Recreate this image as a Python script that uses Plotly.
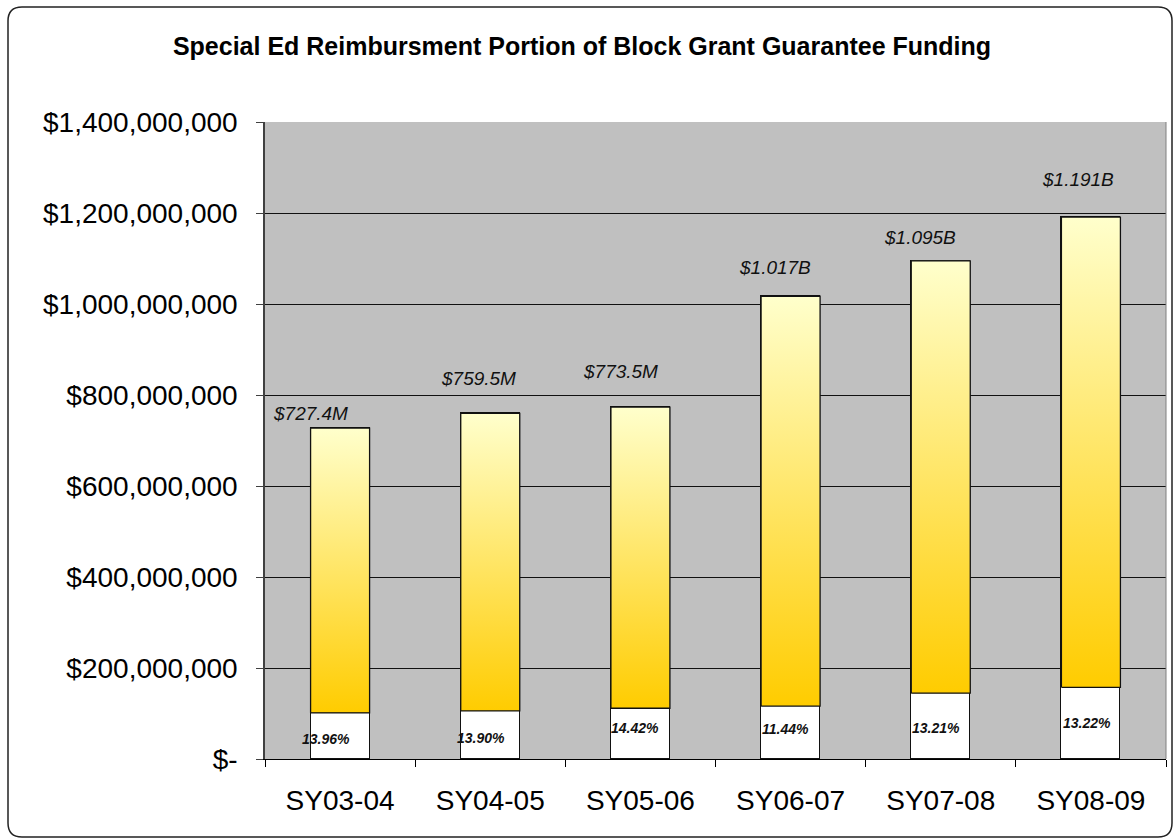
import plotly.graph_objects as go

# ---------------- data ----------------
categories = ["SY03-04", "SY04-05", "SY05-06", "SY06-07", "SY07-08", "SY08-09"]
total_funding = [727.4e6, 759.5e6, 773.5e6, 1017.0e6, 1095.0e6, 1191.0e6]
special_ed_amount = [101.5e6, 105.6e6, 111.5e6, 116.3e6, 144.6e6, 157.5e6]
special_ed_pct_labels = ["13.96%", "13.90%", "14.42%", "11.44%", "13.21%", "13.22%"]
total_labels = ["$727.4M", "$759.5M", "$773.5M", "$1.017B", "$1.095B", "$1.191B"]
y_tickvals = [0, 200e6, 400e6, 600e6, 800e6, 1000e6, 1200e6, 1400e6]
y_ticktext = ["$-", "$200,000,000", "$400,000,000", "$600,000,000", "$800,000,000",
              "$1,000,000,000", "$1,200,000,000", "$1,400,000,000"]

remaining = [t - s for t, s in zip(total_funding, special_ed_amount)]
idx = list(range(len(categories)))

# ---------------- layout constants ----------------
W, H = 1173, 838
ML, MR, MT, MB = 265, 7, 122, 79
BAR_W = 0.393
FONT = "Liberation Sans, Arial, sans-serif"
# label pixel nudges (Excel manual placement)
total_label_dx = [-30, -12, -20, -16, -21, -13]
total_label_dy = [15, 35, 36, 29, 23, 38]
pct_label_dx = [-9, -4, 0, 1, 1, 2]
pct_label_dy = [-3, -3, 6, 4, -2, 0]

fig = go.Figure()

fig.add_trace(go.Bar(
    x=idx, y=special_ed_amount, width=BAR_W,
    marker=dict(color="white", line=dict(color="#111111", width=1.3)),
    name="Special Ed Reimbursement", hoverinfo="skip",
))
fig.add_trace(go.Bar(
    x=idx, y=remaining, width=BAR_W,
    marker=dict(color="#FFE680", line=dict(color="#111111", width=1.3)),
    name="Remaining", hoverinfo="skip",
))

# gradient overlays on the upper segments
for i in idx:
    x0, x1 = i - BAR_W / 2, i + BAR_W / 2
    y0, y1 = special_ed_amount[i], total_funding[i]
    fig.add_trace(go.Scatter(
        x=[x0, x1, x1, x0, x0], y=[y0, y0, y1, y1, y0],
        mode="lines", fill="toself",
        fillgradient=dict(type="vertical", start=y0, stop=y1,
                          colorscale=[[0, "#FFCC00"], [1, "#FFFFCC"]]),
        line=dict(color="#111111", width=1.3),
        hoverinfo="skip", showlegend=False,
    ))

annotations = []
for i in idx:
    annotations.append(dict(
        x=i, y=total_funding[i], xref="x", yref="y",
        text=total_labels[i], showarrow=False,
        xanchor="center", yanchor="middle",
        xshift=total_label_dx[i], yshift=total_label_dy[i],
        font=dict(family=FONT, size=19, color="#111111", style="italic"),
    ))
    annotations.append(dict(
        x=i - BAR_W / 2, y=special_ed_amount[i] / 2, xref="x", yref="y",
        text="<b><i>" + special_ed_pct_labels[i] + "</i></b>", showarrow=False,
        xanchor="left", yanchor="middle",
        xshift=pct_label_dx[i] - 2, yshift=pct_label_dy[i],
        font=dict(family=FONT, size=14, color="#111111"),
    ))

pw = W - ML - MR
ph = H - MT - MB


def px(xp):
    return (xp - ML) / pw


def py(yp):
    return (H - MB - yp) / ph


# rounded outer frame
L, R, T, B, r = 8, 1172, 7, 837, 14
path = (f"M {px(L + r)},{py(T)} L {px(R - r)},{py(T)} Q {px(R)},{py(T)} {px(R)},{py(T + r)} "
        f"L {px(R)},{py(B - r)} Q {px(R)},{py(B)} {px(R - r)},{py(B)} "
        f"L {px(L + r)},{py(B)} Q {px(L)},{py(B)} {px(L)},{py(B - r)} "
        f"L {px(L)},{py(T + r)} Q {px(L)},{py(T)} {px(L + r)},{py(T)} Z")

shapes = [
    dict(type="path", xref="paper", yref="paper", path=path,
         line=dict(color="#222222", width=1.5), layer="below"),
    dict(type="line", xref="paper", yref="paper", x0=1, x1=1, y0=0, y1=1,
         line=dict(color="#808080", width=1)),
]

fig.update_layout(
    width=W, height=H,
    margin=dict(l=ML, r=MR, t=MT, b=MB, pad=0),
    paper_bgcolor="white", plot_bgcolor="#C0C0C0",
    barmode="stack", bargap=0, showlegend=False,
    title=dict(text="<b>Special Ed Reimbursment Portion of Block Grant Guarantee Funding</b>",
               x=582 / W, xref="container", xanchor="center",
               y=1 - 46 / H, yref="container", yanchor="middle",
               font=dict(family=FONT, size=25, color="#000000")),
    font=dict(family=FONT, color="#000000"),
    xaxis=dict(
        range=[-0.5, 5.5], tickmode="array", tickvals=idx, ticktext=categories,
        ticks="", showgrid=False, zeroline=False,
        showline=True, linecolor="#000000", linewidth=1,
        tickfont=dict(family=FONT, size=28, color="#000000"),
        ticklabelstandoff=16,
        minor=dict(tickmode="array", tickvals=[k - 0.5 for k in range(7)],
                   ticks="outside", ticklen=7, tickcolor="#000000", tickwidth=1,
                   showgrid=False),
    ),
    yaxis=dict(
        range=[0, 1.4e9], tickmode="array", tickvals=y_tickvals, ticktext=y_ticktext,
        ticks="outside", ticklen=7, tickcolor="#404040", tickwidth=1,
        showline=True, linecolor="#404040", linewidth=1.5,
        showgrid=True, gridcolor="#111111", gridwidth=1, zeroline=False,
        tickfont=dict(family=FONT, size=28, color="#000000"),
        ticklabelstandoff=13,
    ),
    annotations=annotations, shapes=shapes,
)

fig.write_html("out.html", config={"displayModeBar": False},
               post_script="document.body.style.margin='0';")
